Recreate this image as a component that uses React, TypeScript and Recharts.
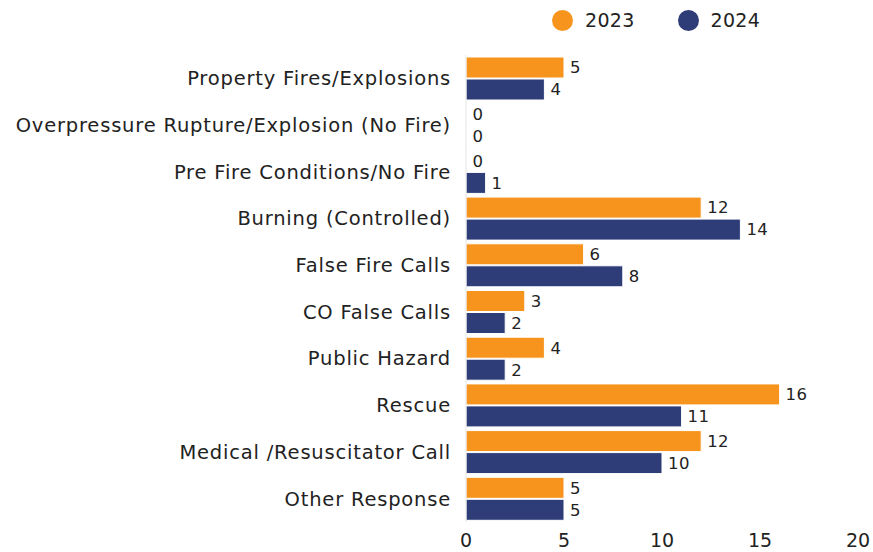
import React from "react";
import { BarChart, Bar, XAxis, YAxis, Legend, LabelList } from "recharts";

const categories = [
  "Property Fires/Explosions",
  "Overpressure Rupture/Explosion (No Fire)",
  "Pre Fire Conditions/No Fire",
  "Burning (Controlled)",
  "False Fire Calls",
  "CO False Calls",
  "Public Hazard",
  "Rescue",
  "Medical /Resuscitator Call",
  "Other Response",
];
const calls2023 = [5, 0, 0, 12, 6, 3, 4, 16, 12, 5];
const calls2024 = [4, 0, 1, 14, 8, 2, 2, 11, 10, 5];
const xTicks = [0, 5, 10, 15, 20];

const ORANGE = "#F7941D";
const NAVY = "#2E3D78";
const FONT = "'DejaVu Sans', sans-serif";

const data = categories.map((name, i) => ({
  name,
  y2023: calls2023[i],
  y2024: calls2024[i],
}));

const LegendContent = () => (
  <div style={{ display: "flex", alignItems: "center", fontFamily: FONT, fontSize: 19, color: "#222", letterSpacing: 0.3 }}>
    {[
      { label: "2023", color: ORANGE },
      { label: "2024", color: NAVY },
    ].map((item) => (
      <div key={item.label} style={{ display: "flex", alignItems: "center", marginRight: 43 }}>
        <div
          style={{
            width: 21,
            height: 21,
            borderRadius: "50%",
            background: item.color,
            marginRight: 12,
          }}
        />
        <span>{item.label}</span>
      </div>
    ))}
  </div>
);

const labelStyle = { fontSize: 16.5, fill: "#222", fontFamily: FONT, letterSpacing: 0.4 };

const App: React.FC = () => {
  return (
    <div style={{ position: "absolute", left: 0, top: 0, fontFamily: FONT }}>
      <BarChart
        width={873}
        height={552}
        data={data}
        layout="vertical"
        margin={{ top: 55, right: 15, left: 0, bottom: 0 }}
        barSize={21}
        barGap={1}
      >
        <XAxis
          type="number"
          domain={[0, 20]}
          ticks={xTicks}
          axisLine={false}
          tickLine={false}
          tickMargin={6}
          height={30}
          tick={{ fontSize: 19, fill: "#222", fontFamily: FONT }}
        />
        <YAxis
          type="category"
          dataKey="name"
          width={466}
          tickLine={false}
          axisLine={{ stroke: "#e6e6e6" }}
          tickMargin={9}
          interval={0}
          tick={{ fontSize: 19.5, fill: "#222", fontFamily: FONT, letterSpacing: 0.8 }}
        />
        <Legend
          verticalAlign="middle"
          align="center"
          content={<LegendContent />}
          wrapperStyle={{ top: 9, left: 552, width: 280 }}
        />
        <Bar dataKey="y2023" name="2023" fill={ORANGE} stroke="#fff" strokeWidth={1} minPointSize={0.5} isAnimationActive={false}>
          <LabelList dataKey="y2023" position="right" offset={6} style={labelStyle} />
        </Bar>
        <Bar dataKey="y2024" name="2024" fill={NAVY} stroke="#fff" strokeWidth={1} minPointSize={0.5} isAnimationActive={false}>
          <LabelList dataKey="y2024" position="right" offset={6} style={labelStyle} />
        </Bar>
      </BarChart>
    </div>
  );
};

export default App;
